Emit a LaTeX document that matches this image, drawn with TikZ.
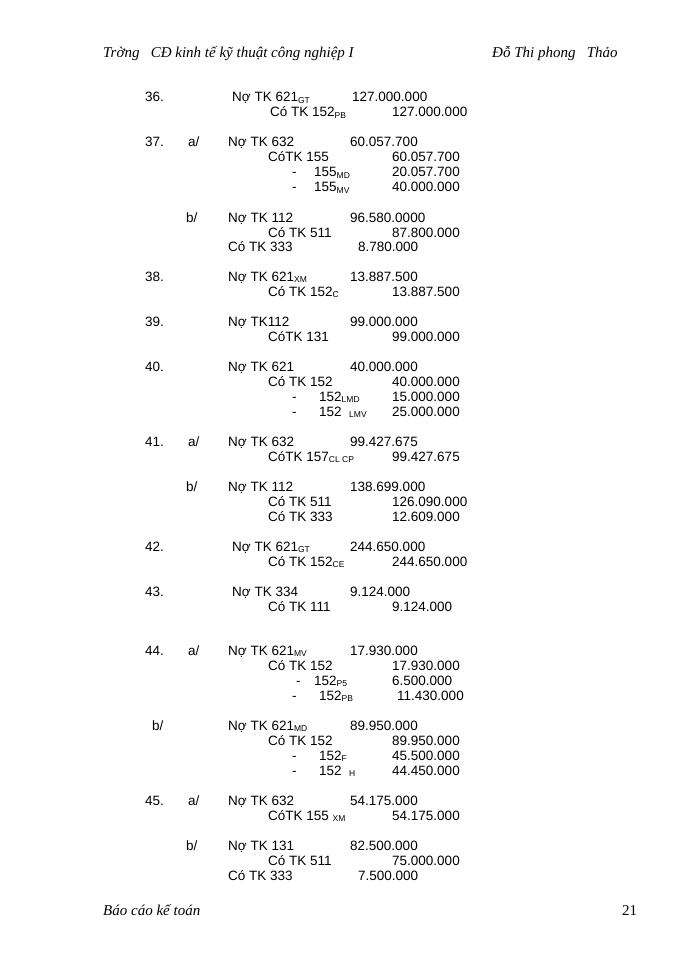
\documentclass[tikz,border=0pt]{standalone}
\usepackage{fontspec}
\setmainfont{Liberation Sans}
\newfontfamily\hdr{Liberation Serif}
\newcommand{\sbs}[1]{\raisebox{-1.5pt}{\fontsize{8.5}{9}\selectfont #1}}
\newcommand{\T}[3]{\node[txt] at (#2,#1) {#3};}
\begin{document}
\begin{tikzpicture}[x=1pt,y=-1pt,txt/.style={anchor=base west,inner sep=0pt,font=\fontsize{13.5}{14}\selectfont}]
\useasboundingbox (0,0) rectangle (700,960);
\fill[white] (0,0) rectangle (700,960);
\def\b{5}
% header
\node[anchor=base west,inner sep=0pt,font=\hdr\itshape\fontsize{15}{16}\selectfont] (h1) at (103,58) {Trờng\ \ \ CĐ kinh tế kỹ thuật công nghiệp I};
\node[anchor=base west,inner sep=0pt,font=\hdr\itshape\fontsize{15}{16}\selectfont] (h2) at (492,58) {Đỗ Thi phong\ \ \ Thảo};
\node[anchor=base west,inner sep=0pt,font=\hdr\itshape\fontsize{15}{16}\selectfont] (f1) at (103,915) {Báo cáo kế toán};
\node[anchor=base west,inner sep=0pt,font=\hdr\fontsize{15}{16}\selectfont] (f2) at (622,915) {21};
% 36
\T{102}{145}{36.}\T{102}{232}{Nợ TK 621\sbs{GT}}\T{102}{352}{127.000.000}
\T{117}{270}{Có TK 152\sbs{PB}}\T{117}{392}{127.000.000}
% 37
\T{147}{145}{37.}\T{147}{188}{a/}\T{147}{228}{Nợ TK 632}\T{147}{350}{60.057.700}
\T{162}{268}{CóTK 155}\T{162}{392}{60.057.700}
\T{177}{292}{-}\T{177}{314}{155\sbs{MD}}\T{177}{392}{20.057.700}
\T{192}{292}{-}\T{192}{314}{155\sbs{MV}}\T{192}{392}{40.000.000}
\T{222}{186}{b/}\T{222}{228}{Nợ TK 112}\T{222}{350}{96.580.0000}
\T{237}{268}{Có TK 511}\T{237}{392}{87.800.000}
\T{251}{228}{Có TK 333}\T{251}{358}{8.780.000}
% 38
\T{281}{145}{38.}\T{281}{228}{Nợ TK 621\sbs{XM}}\T{281}{350}{13.887.500}
\T{296}{268}{Có TK 152\sbs{C}}\T{296}{392}{13.887.500}
% 39
\T{326}{145}{39.}\T{326}{228}{Nợ TK112}\T{326}{350}{99.000.000}
\T{341}{268}{CóTK 131}\T{341}{392}{99.000.000}
% 40
\T{371}{145}{40.}\T{371}{228}{Nợ TK 621}\T{371}{350}{40.000.000}
\T{386}{268}{Có TK 152}\T{386}{392}{40.000.000}
\T{401}{292}{-}\T{401}{319}{152\sbs{LMD}}\T{401}{392}{15.000.000}
\T{416}{292}{-}\T{416}{319}{152\ \ \sbs{LMV}}\T{416}{392}{25.000.000}
% 41
\T{446}{145}{41.}\T{446}{188}{a/}\T{446}{228}{Nợ TK 632}\T{446}{350}{99.427.675}
\T{461}{268}{CóTK 157\sbs{CL CP}}\T{461}{392}{99.427.675}
\T{491}{186}{b/}\T{491}{228}{Nợ TK 112}\T{491}{350}{138.699.000}
\T{506}{268}{Có TK 511}\T{506}{392}{126.090.000}
\T{521}{268}{Có TK 333}\T{521}{392}{12.609.000}
% 42
\T{551}{145}{42.}\T{551}{232}{Nợ TK 621\sbs{GT}}\T{551}{350}{244.650.000}
\T{566}{268}{Có TK 152\sbs{CE}}\T{566}{392}{244.650.000}
% 43
\T{596}{145}{43.}\T{596}{232}{Nợ TK 334}\T{596}{350}{9.124.000}
\T{611}{268}{Có TK 111}\T{611}{392}{9.124.000}
% 44
\T{655}{145}{44.}\T{655}{188}{a/}\T{655}{228}{Nợ TK 621\sbs{MV}}\T{655}{350}{17.930.000}
\T{670}{268}{Có TK 152}\T{670}{392}{17.930.000}
\T{685}{296}{-}\T{685}{314}{152\sbs{P5}}\T{685}{392}{6.500.000}
\T{700}{292}{-}\T{700}{319}{152\sbs{PB}}\T{700}{397}{11.430.000}
\T{730}{152}{b/}\T{730}{228}{Nợ TK 621\sbs{MD}}\T{730}{350}{89.950.000}
\T{745}{268}{Có TK 152}\T{745}{392}{89.950.000}
\T{760}{292}{-}\T{760}{319}{152\sbs{F}}\T{760}{392}{45.500.000}
\T{775}{292}{-}\T{775}{319}{152\ \ \sbs{H}}\T{775}{392}{44.450.000}
% 45
\T{805}{145}{45.}\T{805}{188}{a/}\T{805}{228}{Nợ TK 632}\T{805}{350}{54.175.000}
\T{820}{268}{CóTK 155 \sbs{XM}}\T{820}{392}{54.175.000}
\T{850}{186}{b/}\T{850}{228}{Nợ TK 131}\T{850}{350}{82.500.000}
\T{865}{268}{Có TK 511}\T{865}{392}{75.000.000}
\T{880}{228}{Có TK 333}\T{880}{358}{7.500.000}
\end{tikzpicture}
\end{document}
